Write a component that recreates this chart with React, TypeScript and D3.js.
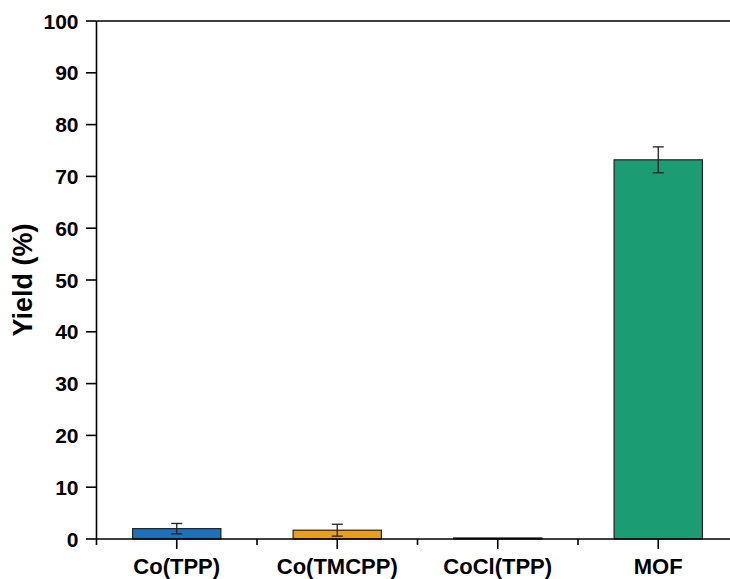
import React from "react";
import * as d3 from "d3";

const categories = ["Co(TPP)", "Co(TMCPP)", "CoCl(TPP)", "MOF"];
const yields = [2.0, 1.7, 0.2, 73.2];
const errors = [1.0, 1.15, 0, 2.5];
const barColors = ["#1f70b9", "#e89f1c", "#bbbbbb", "#1b9c73"];
const yTicks = [0, 10, 20, 30, 40, 50, 60, 70, 80, 90, 100];

const W = 730;
const H = 579;
const left = 96.5;
const right = 738.5;
const top = 21;
const bottom = 539;
const font = "'Liberation Sans', Arial, sans-serif";

export default function App() {
  const x = d3.scaleBand<string>().domain(categories).range([left, right]).padding(0);
  const y = d3.scaleLinear().domain([0, 100]).range([bottom, top]);
  const bw = x.bandwidth() * 0.55;
  const boundaries = d3.range(categories.length).map((i) => left + i * x.step());

  return (
    <svg width={W} height={H} style={{ position: "absolute", left: 0, top: 0, background: "#fff" }}>
      {/* bars */}
      {categories.map((c, i) => {
        const cx = (x(c) as number) + x.bandwidth() / 2;
        return (
          <rect
            key={c}
            x={cx - bw / 2}
            y={y(yields[i])}
            width={bw}
            height={y(0) - y(yields[i])}
            fill={barColors[i]}
            stroke="#222"
            strokeWidth={1.2}
          />
        );
      })}
      {/* error bars */}
      {categories.map((c, i) => {
        if (!errors[i]) return null;
        const cx = (x(c) as number) + x.bandwidth() / 2;
        const y1 = y(yields[i] + errors[i]);
        const y2 = y(yields[i] - errors[i]);
        return (
          <g key={c} stroke="#222" strokeWidth={1.3}>
            <line x1={cx} x2={cx} y1={y1} y2={y2} />
            <line x1={cx - 5.5} x2={cx + 5.5} y1={y1} y2={y1} />
            <line x1={cx - 5.5} x2={cx + 5.5} y1={y2} y2={y2} />
          </g>
        );
      })}
      {/* frame lines */}
      <line x1={left} x2={W} y1={top} y2={top} stroke="#000" strokeWidth={1.6} />
      <line x1={left} x2={W} y1={bottom} y2={bottom} stroke="#000" strokeWidth={1.6} />
      <line x1={left} x2={left} y1={top} y2={bottom} stroke="#000" strokeWidth={1.6} />
      {/* y ticks */}
      {yTicks.map((t) => (
        <g key={t}>
          <line x1={left - 10.5} x2={left} y1={y(t)} y2={y(t)} stroke="#000" strokeWidth={1.6} />
          <text
            x={left - 18}
            y={y(t)}
            dy="0.36em"
            textAnchor="end"
            fontFamily={font}
            fontWeight="bold"
            fontSize={21}
            fill="#000"
          >
            {t}
          </text>
        </g>
      ))}
      {/* x ticks */}
      {boundaries.map((b, i) => (
        <line key={"m" + i} x1={b} x2={b} y1={bottom} y2={bottom + 6} stroke="#000" strokeWidth={1.6} />
      ))}
      {categories.map((c) => {
        const cx = (x(c) as number) + x.bandwidth() / 2;
        return (
          <g key={c}>
            <line x1={cx} x2={cx} y1={bottom} y2={bottom + 10} stroke="#000" strokeWidth={1.6} />
            <text
              x={cx}
              y={573.5}
              textAnchor="middle"
              fontFamily={font}
              fontWeight="bold"
              fontSize={22}
              fill="#000"
            >
              {c}
            </text>
          </g>
        );
      })}
      {/* y axis title */}
      <text
        transform={`translate(32,${(top + bottom) / 2}) rotate(-90)`}
        textAnchor="middle"
        fontFamily={font}
        fontWeight="bold"
        fontSize={27}
        fill="#000"
      >
        Yield (%)
      </text>
    </svg>
  );
}
